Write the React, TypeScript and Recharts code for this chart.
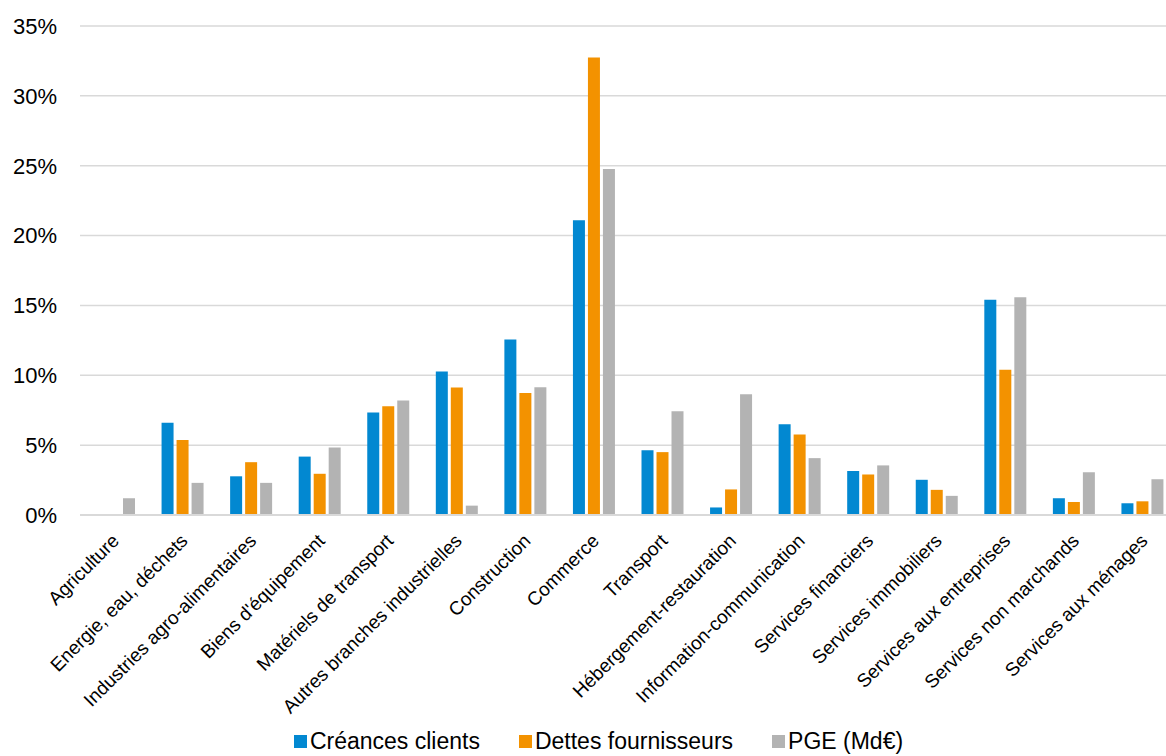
import React from 'react';
import { BarChart, Bar, XAxis, YAxis, CartesianGrid, Legend } from 'recharts';

const SECTEURS = [
  'Agriculture',
  'Energie, eau, déchets',
  'Industries agro-alimentaires',
  "Biens d'équipement",
  'Matériels de transport',
  'Autres branches industrielles',
  'Construction',
  'Commerce',
  'Transport',
  'Hébergement-restauration',
  'Information-communication',
  'Services financiers',
  'Services immobiliers',
  'Services aux entreprises',
  'Services non marchands',
  'Services aux ménages',
];
const CREANCES = [0, 6.6, 2.77, 4.18, 7.33, 10.27, 12.57, 21.1, 4.63, 0.54, 6.49, 3.15, 2.52, 15.4, 1.2, 0.84];
const DETTES = [0, 5.36, 3.78, 2.95, 7.78, 9.12, 8.74, 32.75, 4.5, 1.83, 5.77, 2.9, 1.8, 10.4, 0.93, 0.98];
const PGE = [1.2, 2.3, 2.3, 4.84, 8.2, 0.67, 9.14, 24.77, 7.42, 8.64, 4.07, 3.55, 1.37, 15.58, 3.06, 2.56];
const Y_TICKS = [0, 5, 10, 15, 20, 25, 30, 35];

const BLUE = '#0288d1';
const ORANGE = '#f39200';
const GREY = '#b3b3b3';
const FONT = '"Liberation Sans", Arial, sans-serif';

const data = SECTEURS.map((s, i) => ({
  secteur: s,
  creances: CREANCES[i],
  dettes: DETTES[i],
  pge: PGE[i],
}));

const legendItems = [
  { label: 'Créances clients', color: BLUE },
  { label: 'Dettes fournisseurs', color: ORANGE },
  { label: 'PGE (Md€)', color: GREY },
];

const CategoryTick = (props: any) => {
  const { x, y, payload } = props;
  const tx = x + 6;
  const ty = y + 19;
  return (
    <text
      x={tx}
      y={ty}
      textAnchor="end"
      transform={`rotate(-45, ${tx}, ${ty})`}
      fontSize={19}
      fontFamily={FONT}
      fill="#000"
    >
      {payload.value}
    </text>
  );
};

const LegendContent = () => (
  <div style={{ display: 'flex', justifyContent: 'center', paddingLeft: 20, fontFamily: FONT, fontSize: 23, color: '#000' }}>
    {legendItems.map((it, i) => (
      <div key={it.label} style={{ display: 'flex', alignItems: 'center', marginRight: i < 2 ? 39 : 0 }}>
        <span style={{ width: 13, height: 13, background: it.color, display: 'inline-block', marginRight: 3 }} />
        <span>{it.label}</span>
      </div>
    ))}
  </div>
);

export default function App() {
  return (
    <div style={{ position: 'absolute', left: 0, top: 0, width: 1166, height: 756, overflow: 'hidden', background: '#fff' }}>
      <BarChart
        width={1177}
        height={756}
        data={data}
        margin={{ top: 26, right: 0, left: 0, bottom: 0 }}
        barGap={3}
        barSize={12}
      >
        <CartesianGrid vertical={false} stroke="#d9d9d9" strokeWidth={1.5} />
        <YAxis
          width={80}
          domain={[0, 35]}
          ticks={Y_TICKS}
          tickFormatter={(v: number) => `${v}%`}
          axisLine={false}
          tickLine={false}
          tickSize={0}
          tickMargin={23}
          tick={{ fontSize: 22, fontFamily: FONT, fill: '#000' }}
        />
        <XAxis
          dataKey="secteur"
          interval={0}
          height={213}
          axisLine={{ stroke: '#d9d9d9', strokeWidth: 2 }}
          tickLine={false}
          tick={<CategoryTick />}
        />
        <Legend verticalAlign="bottom" height={28} content={<LegendContent />} />
        <Bar dataKey="creances" name="Créances clients" fill={BLUE} isAnimationActive={false} />
        <Bar dataKey="dettes" name="Dettes fournisseurs" fill={ORANGE} isAnimationActive={false} />
        <Bar dataKey="pge" name="PGE (Md€)" fill={GREY} isAnimationActive={false} />
      </BarChart>
    </div>
  );
}
